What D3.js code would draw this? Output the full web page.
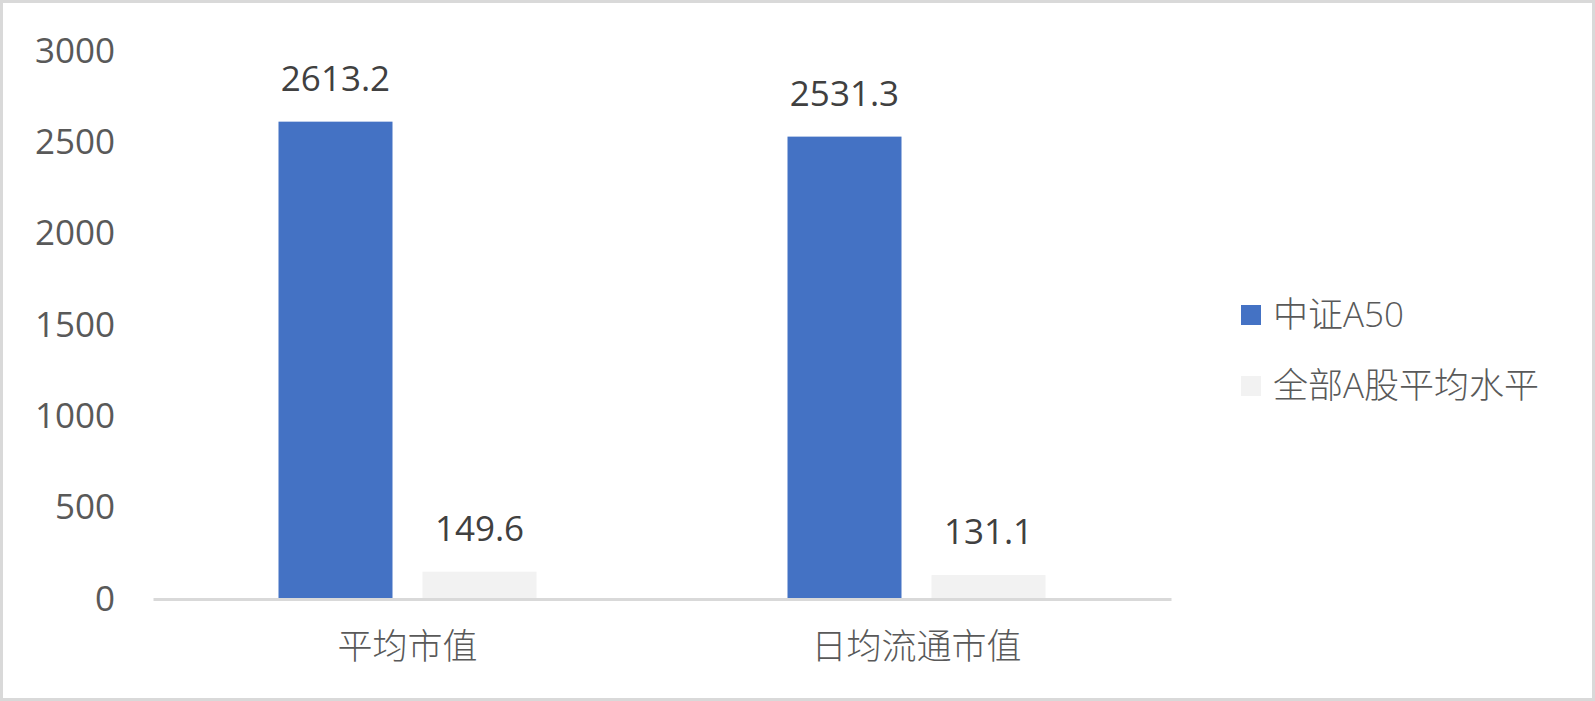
<!DOCTYPE html>
<html>
<head>
<meta charset="utf-8">
<script src="https://cdn.jsdelivr.net/npm/d3@7"></script>
<style>
  html, body { margin: 0; padding: 0; background: #fff; }
  svg { display: block; }
</style>
</head>
<body>
<div id="chart"></div>
<script>
var categories = ["平均市值", "日均流通市值"];
var seriesNames = ["中证A50", "全部A股平均水平"];
var a50Values = [2613.2, 2531.3];
var allAValues = [149.6, 131.1];
var yTicks = [0, 500, 1000, 1500, 2000, 2500, 3000];
var colors = ["#4472c4", "#f2f2f2"];

var width = 1595,
    height = 701;

var plotLeft = 153, plotRight = 1171, plotTop = 51, plotBottom = 599;
var font = "'Open Sans', 'Noto Sans CJK SC', sans-serif";
var cjkFont = "'Noto Sans CJK SC', 'Open Sans', sans-serif";

var svg = d3.select("#chart")
    .append("svg")
    .attr("width", width)
    .attr("height", height);

// outer frame
svg.append("rect")
    .attr("x", 1.5).attr("y", 1.5)
    .attr("width", width - 3).attr("height", height - 3)
    .style("fill", "#fff")
    .style("stroke", "#d9d9d9")
    .style("stroke-width", 3);

var x0 = d3.scaleBand()
    .domain(categories)
    .range([plotLeft, plotRight]);

var y = d3.scaleLinear()
    .domain([0, 3000])
    .range([plotBottom, plotTop]);

var barW = 114, barGap = 30;
var offsets = [-(barW + barGap) / 2, (barW + barGap) / 2];

var rows = categories.map(function(c, i) {
  return { cat: c, vals: [a50Values[i], allAValues[i]] };
});

// y axis labels
var yAxis = svg.append("g")
    .attr("transform", "translate(" + (plotLeft - 38) + ",0)")
    .call(d3.axisLeft(y).tickValues(yTicks).tickFormat(d3.format("d")).tickSize(0).tickPadding(0));
yAxis.select(".domain").remove();
yAxis.selectAll("text")
    .style("font-family", font)
    .style("font-size", "35px")
    .style("fill", "#595959");

// bars
rows.forEach(function(r) {
  r.vals.forEach(function(v, s) {
    var cx = x0(r.cat) + x0.bandwidth() / 2 + offsets[s];
    svg.append("rect")
        .attr("x", cx - barW / 2)
        .attr("y", y(v))
        .attr("width", barW)
        .attr("height", y(0) - y(v))
        .style("fill", colors[s]);
    svg.append("text")
        .attr("x", cx)
        .attr("y", y(v) - 31)
        .attr("text-anchor", "middle")
        .style("font-family", font)
        .style("font-size", "35px")
        .style("fill", "#404040")
        .text(v.toFixed(1));
  });
});

// x axis baseline + labels
var xAxis = svg.append("g")
    .attr("transform", "translate(0," + plotBottom + ")")
    .call(d3.axisBottom(x0).tickSize(0).tickPadding(0));
xAxis.select(".domain")
    .style("stroke", "#d9d9d9")
    .style("stroke-width", 3);
xAxis.selectAll("text")
    .attr("dy", null)
    .attr("y", 60)
    .style("font-family", cjkFont)
    .style("font-weight", 300)
    .style("font-size", "35px")
    .style("fill", "#595959");

// legend
var legend = svg.append("g");
seriesNames.forEach(function(name, i) {
  var ly = 315 + i * 71;
  legend.append("rect")
      .attr("x", 1241).attr("y", ly - 10)
      .attr("width", 20).attr("height", 20)
      .style("fill", colors[i]);
  legend.append("text")
      .attr("x", 1273).attr("y", ly + 12)
      .style("font-family", font)
      .style("font-weight", 300)
      .style("font-size", "35px")
      .style("fill", "#595959")
      .text(name);
});
</script>
</body>
</html>
